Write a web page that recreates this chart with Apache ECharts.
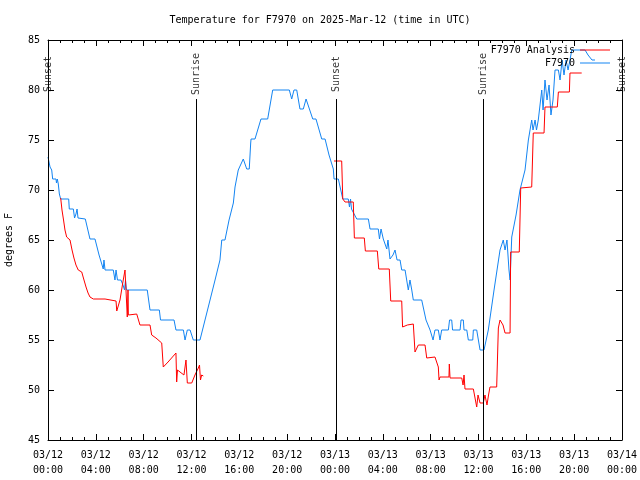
<!DOCTYPE html>
<html>
<head>
<meta charset="utf-8">
<script src="https://cdn.jsdelivr.net/npm/echarts@6/dist/echarts.min.js"></script>
<style>html,body{margin:0;padding:0;background:#fff}#c{width:640px;height:480px}</style>
</head>
<body>
<div id="c"></div>
<script>
// Hours since 2025-03-12 00:00 UTC
const obsHours = [0.00,0.17,0.31,0.39,0.67,0.71,0.78,0.86,0.95,1.06,1.73,1.78,2.12,2.22,2.28,2.34,2.43,2.51,3.12,3.51,3.93,4.27,4.62,4.68,4.77,5.46,5.60,5.69,5.81,6.10,6.27,6.40,6.48,6.56,8.30,8.53,9.31,9.41,10.54,10.70,11.32,11.46,11.60,11.65,11.88,12.15,12.71,13.13,13.55,13.97,14.38,14.53,14.80,15.14,15.50,15.64,15.91,16.33,16.62,16.83,16.95,16.98,17.31,17.81,18.37,18.79,20.18,20.38,20.57,20.80,21.07,21.35,21.58,22.14,22.41,22.89,23.17,23.50,23.86,23.92,24.28,24.65,25.11,25.21,25.30,25.38,25.48,25.82,26.79,26.93,27.62,27.72,27.85,28.04,28.33,28.43,28.60,28.85,29.02,29.19,29.44,29.58,29.86,30.13,30.27,30.42,30.55,31.25,31.61,31.95,32.20,32.36,32.64,32.78,32.92,33.48,33.58,33.76,33.83,34.46,34.54,34.73,34.79,35.02,35.15,35.52,35.57,35.85,36.13,36.46,36.82,37.30,37.80,38.07,38.22,38.38,38.55,38.64,38.78,39.14,39.47,39.89,40.17,40.45,40.56,40.73,40.85,41.00,41.29,41.40,41.56,41.73,41.90,42.06,42.23,42.40,42.68,42.82,42.99,43.15,43.32,43.49,43.65,43.80,44.91,45.16,45.49,45.74];
const obsTemps = [73.3,72.3,72.0,71.1,71.1,70.7,71.1,70.6,69.6,69.1,69.1,68.1,68.1,67.2,67.2,67.6,68.1,67.2,67.1,65.1,65.1,63.5,62.1,63.0,62.0,62.0,61.0,62.0,61.0,61.0,60.5,60.0,61.0,60.0,60.0,58.0,58.0,57.0,57.0,56.0,56.0,55.0,55.0,56.0,56.0,55.0,55.0,57.0,59.0,61.0,63.0,65.0,65.0,67.0,68.7,70.3,72.0,73.1,72.1,72.1,74.7,75.1,75.1,77.1,77.1,80.0,80.0,79.1,80.0,80.0,78.1,78.1,79.1,77.1,77.1,75.1,75.1,73.5,72.1,71.1,71.1,69.1,69.1,68.3,69.1,68.1,68.1,67.1,67.1,66.1,66.1,65.1,66.1,65.1,64.1,65.0,63.1,63.5,64.0,63.0,63.0,62.0,62.0,60.0,61.0,60.0,59.0,59.0,57.0,56.0,55.0,56.0,56.0,55.0,56.0,56.0,57.0,57.0,56.0,56.0,57.0,57.0,56.0,56.0,55.0,55.0,56.0,56.0,54.0,54.0,56.0,60.0,64.0,65.0,64.0,65.0,62.0,61.0,65.3,67.5,70.0,72.0,75.0,77.0,76.0,77.0,76.0,77.0,80.0,78.0,81.0,79.0,80.5,77.5,79.0,82.0,82.0,81.0,83.0,81.5,83.0,82.0,83.0,84.0,84.0,83.5,83.0,83.0];

const anaHours = [1.06,1.17,1.30,1.42,1.56,1.84,2.01,2.17,2.34,2.53,2.82,3.01,3.18,3.35,3.51,3.64,3.79,4.77,4.85,5.69,5.75,5.88,6.02,6.25,6.44,6.52,6.63,6.69,6.72,7.42,7.55,7.69,8.53,8.67,9.03,9.51,9.64,10.04,10.70,10.76,10.83,11.04,11.37,11.54,11.65,12.02,12.29,12.57,12.67,12.75,12.85,12.99,
  18.00,
  23.92,24.56,24.65,24.84,25.53,25.62,26.45,26.54,27.54,27.66,28.54,28.66,29.58,29.65,30.05,30.55,30.69,30.97,31.53,31.67,32.36,32.64,32.70,32.78,33.53,33.56,33.62,34.60,34.71,34.79,34.87,35.57,35.85,35.96,36.13,36.40,36.54,36.71,36.84,36.96,37.52,37.66,37.80,38.05,38.22,38.64,38.69,39.41,39.53,40.45,40.58,41.48,41.56,42.59,42.68,43.60,43.65,44.63];
const anaTemps = [69.2,68.0,67.0,66.0,65.3,65.0,64.0,63.2,62.5,62.0,61.8,61.0,60.3,59.7,59.3,59.5,59.1,59.1,58.9,58.9,57.9,57.9,59.0,60.7,62.0,62.0,57.3,60.0,57.5,57.6,57.5,56.5,56.5,55.5,55.2,54.7,52.3,52.8,53.7,50.8,52.0,51.8,51.5,53.0,50.7,50.7,51.5,52.2,52.5,51.0,51.5,51.4,
  null,
  72.9,72.9,69.1,68.8,68.8,65.2,65.2,63.9,63.9,62.1,62.1,58.9,58.9,56.3,56.5,56.6,53.8,54.5,54.5,53.2,53.3,52.3,51.0,51.3,51.3,52.6,51.2,51.2,50.5,51.5,50.1,50.1,48.3,49.5,48.7,48.7,49.5,48.5,49.5,50.3,50.3,56.2,57.0,56.5,55.7,55.7,63.8,63.8,70.2,70.3,75.7,75.7,78.3,78.3,79.8,79.8,81.7,81.7];

const sunHours = [0, 12.38, 24.08, 36.38, 48];
const sunLabels = ['Sunset', 'Sunrise', 'Sunset', 'Sunrise', 'Sunset'];
const sunLineTop = 79.1;
const sunLabelY = 81.6;

const FONT = 'DejaVu Sans Mono';
const chart = echarts.init(document.getElementById('c'), null, {renderer: 'canvas'});

function pad(n) { return (n < 10 ? '0' : '') + n; }
function fmtX(h) {
  const day = 12 + Math.floor(h / 24);
  const hh = Math.round(h % 24);
  return '03/' + pad(day) + '\n' + pad(hh) + ':00';
}

const xCommon = {
  type: 'value', min: 0, max: 48, interval: 4,
  axisLine: {show: true, onZero: false, lineStyle: {color: '#000', width: 1}},
  axisTick: {show: true, inside: true, length: 6, lineStyle: {color: '#000'}},
  minorTick: {show: true, splitNumber: 4, length: 3, lineStyle: {color: '#000'}},
  splitLine: {show: false}
};
const yCommon = {
  type: 'value', min: 45, max: 85, interval: 5,
  axisLine: {show: true, onZero: false, lineStyle: {color: '#000', width: 1}},
  axisTick: {show: true, inside: true, length: 6, lineStyle: {color: '#000'}},
  splitLine: {show: false}
};
const LINE_ICON = 'path://M0,0 L30,0 L30,1 L0,1 Z';
const legendText = {fontFamily: FONT, fontSize: 10, color: '#000'};
const BLUE = '#1384f2';
const RED = '#ff0000';

const option = {
  animation: false,
  backgroundColor: '#fff',
  textStyle: {fontFamily: FONT},
  title: {
    text: 'Temperature for F7970 on 2025-Mar-12 (time in UTC)',
    left: 'center', top: 10,
    textStyle: {fontFamily: FONT, fontSize: 10, fontWeight: 'normal', color: '#000'}
  },
  legend: [
    {data: [{name: 'F7970 Analysis', icon: LINE_ICON}], right: 25, top: 40, align: 'right',
     itemWidth: 30, itemHeight: 1, itemGap: 4, textStyle: legendText},
    {data: [{name: 'F7970', icon: LINE_ICON}], right: 25, top: 53, align: 'right',
     itemWidth: 30, itemHeight: 1, itemGap: 4, textStyle: legendText}
  ],
  grid: {left: 48, right: 18, top: 40, bottom: 40, containLabel: false, outerBoundsMode: 'none'},
  xAxis: [
    Object.assign({}, xCommon, {position: 'bottom',
      axisLabel: {show: true, formatter: fmtX, fontFamily: FONT, fontSize: 10, color: '#000', margin: 8, lineHeight: 15,
                  showMinLabel: true, showMaxLabel: true}}),
    Object.assign({}, xCommon, {position: 'top', axisLabel: {show: false}})
  ],
  yAxis: [
    Object.assign({}, yCommon, {position: 'left', name: 'degrees F', nameLocation: 'middle', nameRotate: 90, nameGap: 34,
      nameTextStyle: {fontFamily: FONT, fontSize: 10, color: '#000'},
      axisLabel: {show: true, fontFamily: FONT, fontSize: 10, color: '#000', margin: 8}}),
    Object.assign({}, yCommon, {position: 'right', axisLabel: {show: false}})
  ],
  series: [
    {
      name: 'F7970 Analysis', type: 'line', xAxisIndex: 0, yAxisIndex: 0,
      data: anaHours.map((h, i) => [h, anaTemps[i]]),
      showSymbol: false, symbol: 'none', connectNulls: false,
      lineStyle: {color: RED, width: 1}, itemStyle: {color: RED}, z: 3
    },
    {
      name: 'F7970', type: 'line', xAxisIndex: 0, yAxisIndex: 0,
      data: obsHours.map((h, i) => [h, obsTemps[i]]),
      showSymbol: false, symbol: 'none',
      lineStyle: {color: BLUE, width: 1}, itemStyle: {color: BLUE}, z: 2
    },
    {
      name: 'sun', type: 'scatter', xAxisIndex: 0, yAxisIndex: 0,
      symbolSize: 0, silent: true,
      data: sunHours.map((h, i) => [h, sunLabelY, sunLabels[i]]),
      label: {show: true, position: 'inside', rotate: 90, formatter: p => p.value[2],
              fontFamily: FONT, fontSize: 10, color: '#000'},
      markLine: {
        silent: true, symbol: ['none', 'none'],
        label: {show: false},
        lineStyle: {color: '#000', width: 1, type: 'solid'},
        data: sunHours.map(h => [{coord: [h, 45]}, {coord: [h, sunLineTop]}])
      }
    }
  ]
};
chart.setOption(option);
</script>
</body>
</html>
